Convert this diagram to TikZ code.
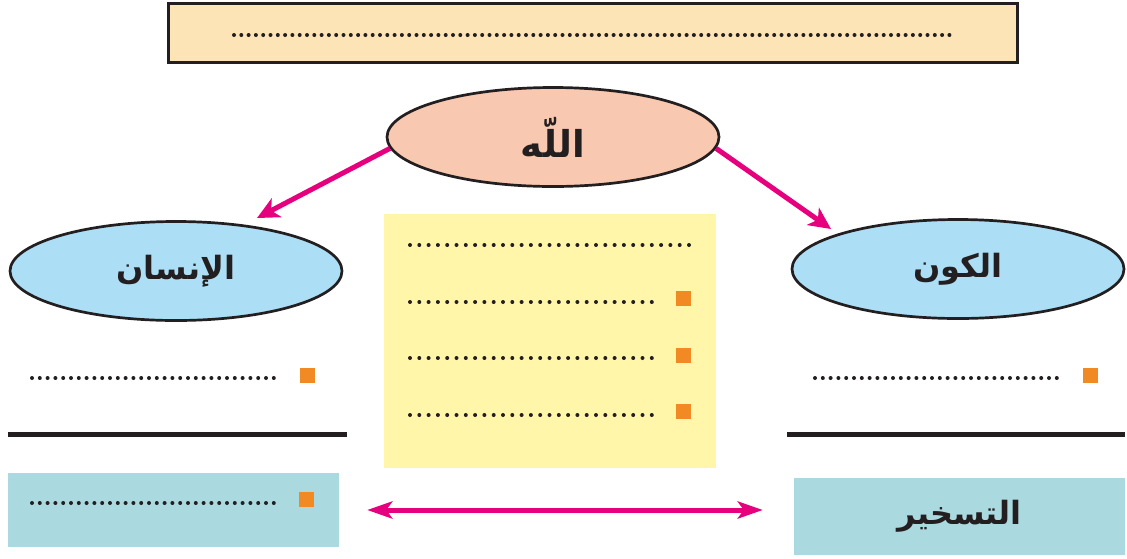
\documentclass[tikz,border=0pt]{standalone}
\usepackage{fontspec}
\TeXXeTstate=1
\newfontfamily\arabicfont[Script=Arabic]{DejaVu Sans}
\usetikzlibrary{shapes.geometric,arrows.meta}
\definecolor{topfill}{RGB}{252,228,182}
\definecolor{allahfill}{RGB}{249,200,176}
\definecolor{bluefill}{RGB}{172,222,245}
\definecolor{yelfill}{RGB}{255,246,170}
\definecolor{tealfill}{RGB}{170,217,224}
\definecolor{orng}{RGB}{242,138,36}
\definecolor{mag}{RGB}{230,0,126}
\definecolor{ink}{RGB}{35,31,32}
\begin{document}
\begin{tikzpicture}[x=1pt,y=-1pt,
  ell/.style={ellipse, draw=ink, line width=2.7pt, minimum width=332pt, minimum height=99pt, inner sep=0pt},
  arlabel/.style={font=\arabicfont\bfseries\fontsize{32}{38}\selectfont, text=ink},
  magarrow/.style={draw=mag, line width=5pt, -{Stealth[length=22pt,width=21pt,inset=6pt]}},
  dblarrow/.style={draw=mag, line width=5pt, {Stealth[length=25pt,width=17pt,inset=6pt]}-{Stealth[length=25pt,width=17pt,inset=6pt]}},
  dotrow/.style={draw=ink, line width=4pt, line cap=round, dash pattern=on 0pt off #1},
  osq/.style={fill=orng, draw=none, minimum size=15pt, inner sep=0pt},
  rule/.style={draw=ink, line width=5pt}
]
\useasboundingbox (0,0) rectangle (1127,558);

% top box
\node[draw=ink, line width=3pt, fill=topfill, minimum width=849pt, minimum height=59pt, inner sep=0pt] (top) at (593,33) {};
\draw[dotrow=7.3pt] (234,35) -- (952,35);

% ellipses
\node[ell, fill=allahfill, arlabel, font=\arabicfont\bfseries\fontsize{37}{44}\selectfont] (allah) at (553,137) {\beginR اللّه\endR};
\node[ell, fill=bluefill, arlabel] (insan) at (176,271) {\beginR الإنسان\endR};
\node[ell, fill=bluefill, arlabel] (kawn) at (958,269) {\beginR الكون\endR};

% arrows
\coordinate (ltip) at (257,218);
\coordinate (rtip) at (831,229);
\draw[magarrow] (allah.184) -- (ltip);
\draw[magarrow] (allah.-4) -- (rtip);

% central yellow box
\node[fill=yelfill, minimum width=332pt, minimum height=254pt, inner sep=0pt] (mid) at (550,341) {};
\draw[dotrow=9.3pt] (410,245) -- (692,245);
\draw[dotrow=9.3pt] (410,302) -- (652,302);
\draw[dotrow=9.3pt] (410,358) -- (652,358);
\draw[dotrow=9.3pt] (410,415) -- (652,415);
\node[osq] (m1) at (683,298) {};
\node[osq] (m2) at (683,355) {};
\node[osq] (m3) at (683,411) {};

% left column
\draw[dotrow=7.8pt] (32,378) -- (275,378);
\node[osq] (l1) at (307,375) {};
\draw[rule] (8,434) -- (347,434);
\node[fill=tealfill, minimum width=331pt, minimum height=74pt, inner sep=0pt] (lbox) at (173.5,510) {};
\draw[dotrow=7.8pt] (32,503) -- (275,503);
\node[osq] (l2) at (306,499) {};

% right column
\draw[dotrow=7.8pt] (815,378) -- (1058,378);
\node[osq] (r1) at (1090,375) {};
\draw[rule] (787,434) -- (1125,434);
\node[fill=tealfill, minimum width=331pt, minimum height=77pt, inner sep=0pt, arlabel] (rbox) at (959.5,516.5) {\beginR التسخير\endR};

% double arrow
\draw[dblarrow, shorten <=28pt, shorten >=31pt] (lbox.east) -- (lbox.east -| rbox.west);
\end{tikzpicture}
\end{document}
